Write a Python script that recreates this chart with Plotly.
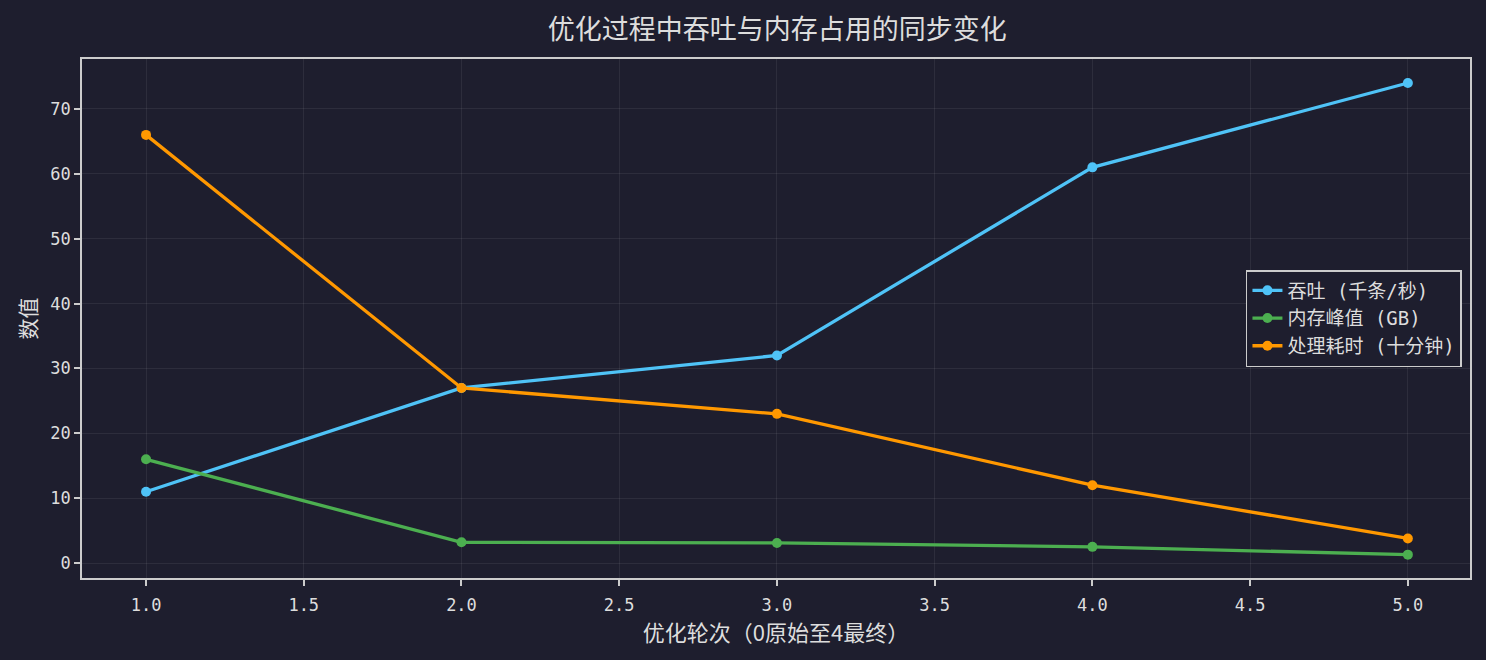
import plotly.graph_objects as go

rounds = [1, 2, 3, 4, 5]
throughput = [11, 27, 32, 61, 74]
memory_peak = [16, 3.2, 3.1, 2.5, 1.3]
proc_time = [66, 27, 23, 12, 3.8]

series = [
    ("吞吐 (千条/秒)", throughput, "#4fc3f7"),
    ("内存峰值 (GB)", memory_peak, "#4caf50"),
    ("处理耗时 (十分钟)", proc_time, "#ff9800"),
]

FONT = "DejaVu Sans Mono, Noto Sans CJK SC"
CJK = "Noto Sans CJK SC"
BG = "#1e1e2e"
FG = "#dddddd"
FRAME = "#cccccc"

fig = go.Figure()
for name, vals, color in series:
    fig.add_trace(go.Scatter(
        x=rounds, y=vals, name=name, mode="lines+markers",
        line=dict(color=color, width=3.3),
        marker=dict(color=color, size=10),
    ))

axis_common = dict(
    showline=True, linecolor=FRAME, linewidth=1.5, mirror=True,
    ticks="outside", tickcolor=FRAME, ticklen=6, tickwidth=1.5,
    gridcolor="rgba(255,255,255,0.07)", gridwidth=1,
    zeroline=False,
    tickfont=dict(size=17, color=FG, family=FONT),
)

fig.update_layout(
    width=1486, height=660,
    paper_bgcolor=BG, plot_bgcolor=BG,
    font=dict(family=FONT, color=FG),
    margin=dict(l=82, r=16, t=59, b=82),
    title=dict(text="优化过程中吞吐与内存占用的同步变化", x=0.523, xanchor="center",
               y=0.955, yanchor="middle", font=dict(size=27, color=FG, family=FONT)),
    xaxis=dict(axis_common, range=[0.797, 5.197], tickvals=[1, 1.5, 2, 2.5, 3, 3.5, 4, 4.5, 5],
               ticktext=["1.0", "1.5", "2.0", "2.5", "3.0", "3.5", "4.0", "4.5", "5.0"],
               ticklabelstandoff=5,
               title=dict(text="优化轮次（0原始至4最终）", font=dict(size=22, color=FG, family=CJK), standoff=11)),
    yaxis=dict(axis_common, range=[-2.3, 77.7], tickvals=[0, 10, 20, 30, 40, 50, 60, 70],
               title=dict(text="数值", font=dict(size=21, color=FG, family=FONT), standoff=8)),
    legend=dict(x=0.9942, xanchor="right", y=0.5, yanchor="middle",
                bgcolor=BG, bordercolor=FRAME, borderwidth=1.5,
                font=dict(size=19, color=FG, family=FONT)),
)

fig.write_html("out.html", config={"displayModeBar": False},
               post_script="document.body.style.margin='0';document.body.style.background='#1e1e2e';")
